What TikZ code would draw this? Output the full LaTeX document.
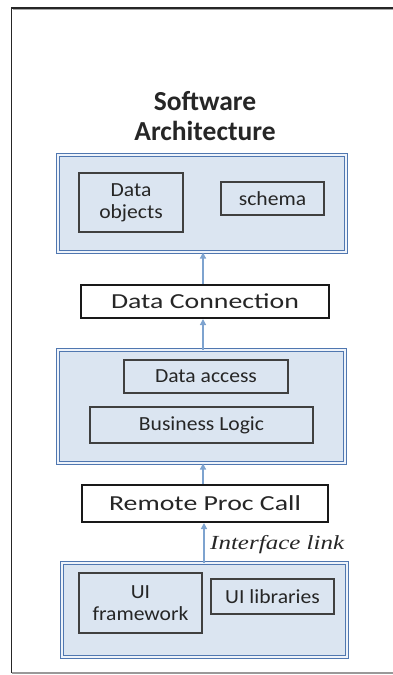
\documentclass[tikz,border=0pt]{standalone}
\usepackage{fontspec}
\setmainfont{Carlito}
\newfontfamily\smallf[FakeStretch=1.08]{Carlito}
\newfontfamily\bigf[FakeStretch=1.3]{Carlito}
\newfontfamily\itf[FakeStretch=1.25]{Liberation Serif}
\usetikzlibrary{arrows.meta}
\definecolor{boxfill}{HTML}{DBE5F1}
\definecolor{boxline}{HTML}{5077B0}
\definecolor{gapcol}{HTML}{EEF3FA}
\definecolor{arrcol}{HTML}{7EA3CF}
\definecolor{innerline}{HTML}{404040}
\tikzset{
  layer/.style={draw=boxline, line width=1pt, double=gapcol, double distance=1.5pt, fill=boxfill, inner sep=0pt},
  inbox/.style={draw=innerline, line width=1.3pt, inner sep=0pt, font=\smallf\fontsize{20}{22}\selectfont, text=black!85, align=center},
  conbox/.style={draw=black!90, line width=2pt, fill=white, inner sep=0pt, font=\bigf\fontsize{21.4}{24}\selectfont, text=black!85},
  arr/.style={draw=arrcol, line width=1.2pt, -{Triangle[length=6pt,width=6pt]}},
}
\begin{document}
\begin{tikzpicture}[x=1pt,y=-1pt]
\useasboundingbox (0,0) rectangle (393,675);
% frame
\draw[black!85, line width=1.5pt] (11.5,673) -- (11.5,8) -- (393,8);
\draw[black!35, line width=1pt] (12.5,9.5) -- (393,9.5);
\draw[black!40, line width=1.5pt] (11.5,673) -- (393,673);
% title
\node[font=\fontsize{27.5}{30}\selectfont\bfseries, text=black!85, align=center] (title) at (205,116) {Software\\Architecture};
% top layer
\node[layer, minimum width=288pt, minimum height=97pt] (top) at (202,203.5) {};
\node[inbox, minimum width=104pt, minimum height=59pt] (dobj) at (131,202.5) {Data\\objects};
\node[inbox, minimum width=103pt, minimum height=33pt] (schema) at (272.5,198.5) {schema};
% data connection
\node[conbox, minimum width=248pt, minimum height=33pt] (dc) at (205,301.5) {Data Connection};
% middle layer
\node[layer, minimum width=287pt, minimum height=113pt] (mid) at (201.5,406.5) {};
\node[inbox, minimum width=164pt, minimum height=33pt] (dacc) at (206,376.5) {Data access};
\node[inbox, minimum width=223pt, minimum height=36pt] (blog) at (201.5,425) {Business Logic};
% rpc
\node[conbox, minimum width=246pt, minimum height=37pt] (rpc) at (205,503.5) {Remote Proc Call};
% lower layer
\node[layer, minimum width=285pt, minimum height=94pt] (low) at (204.5,610) {};
\node[inbox, minimum width=123pt, minimum height=60pt] (uifw) at (140.5,603) {UI\\framework};
\node[inbox, minimum width=123pt, minimum height=35pt] (uilib) at (272.5,596.5) {UI libraries};
% label
\node[font=\itf\itshape\fontsize{20}{24}\selectfont, text=black!85, anchor=west, inner sep=0pt] (ilink) at (210,545) {Interface link};
% arrows
\coordinate (ax) at (203,0);
\coordinate (bx) at (204,0);
\draw[arr] (dc.north -| ax) -- (top.south -| ax);
\draw[arr] (mid.north -| ax) -- (dc.south -| ax);
\draw[arr] (rpc.north -| ax) -- (mid.south -| ax);
\draw[arr] (low.north -| bx) -- (rpc.south -| bx);
\end{tikzpicture}
\end{document}
